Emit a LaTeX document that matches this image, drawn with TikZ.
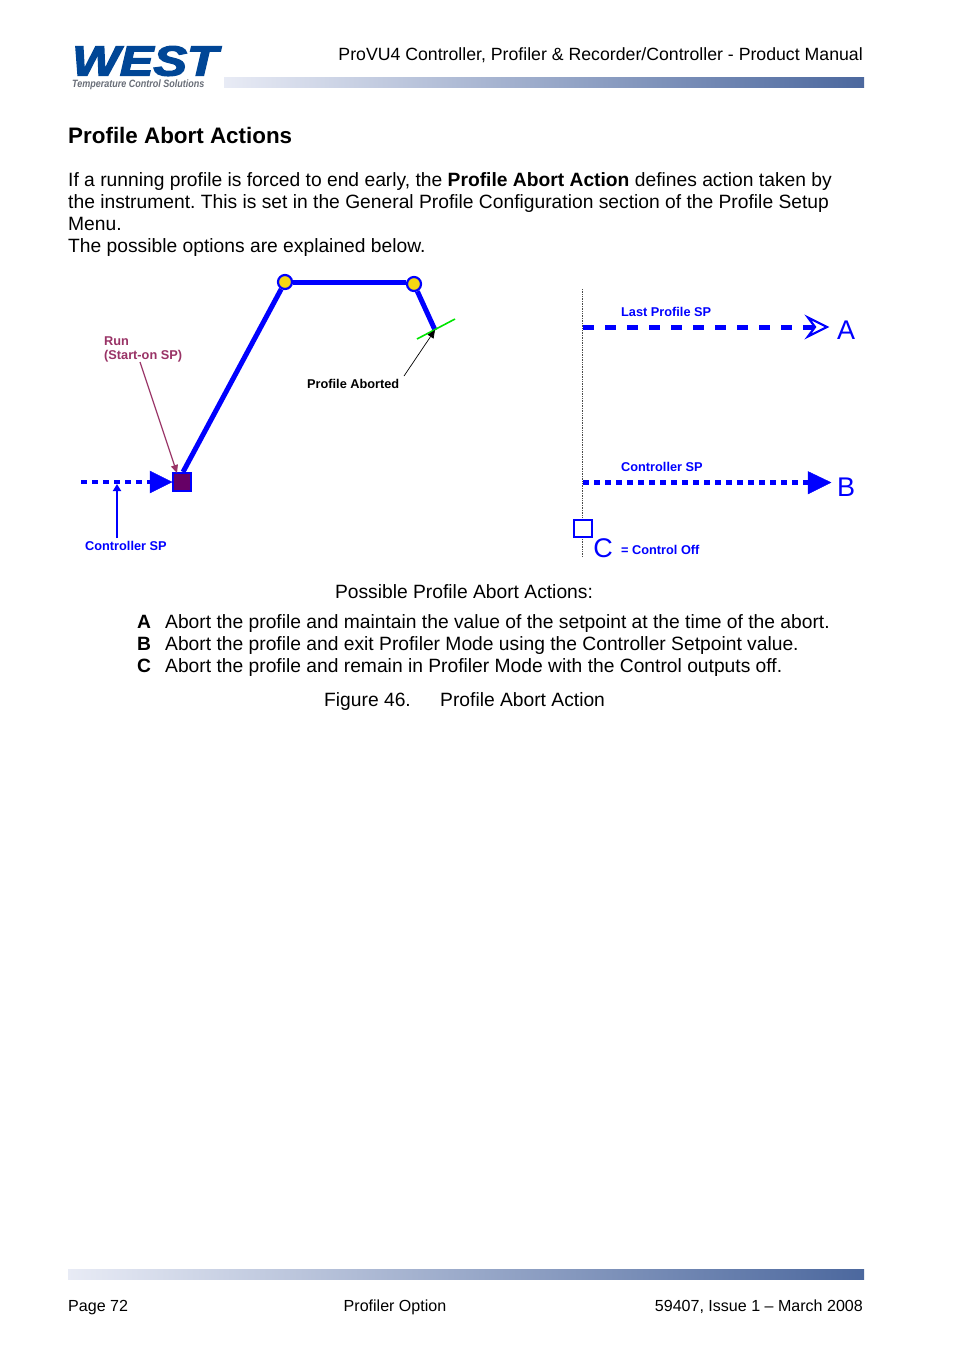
\documentclass[tikz,border=0pt]{standalone}
\usepackage{fontspec}
\setmainfont{Liberation Sans}
\newfontfamily\logofont[FakeBold=3]{Liberation Sans Bold Italic}
\usetikzlibrary{arrows.meta}
\definecolor{westblue}{RGB}{0,70,150}
\definecolor{taggray}{RGB}{105,110,120}
\definecolor{runred}{RGB}{153,51,102}
\definecolor{startfill}{RGB}{102,0,102}
\definecolor{spotfill}{RGB}{245,215,20}
\definecolor{barlight}{RGB}{232,235,245}
\definecolor{bardark}{RGB}{76,104,158}
\newcommand{\bodyfont}{\fontsize{19.25}{22}\selectfont\frenchspacing}
\newcommand{\footfont}{\fontsize{16.05}{20}\selectfont}
\newcommand{\smallfont}{\fontsize{12.75}{15}\selectfont\bfseries}

\begin{document}
\begin{tikzpicture}[
  x=1pt, y=-1pt,
  txt/.style={anchor=base west, inner sep=0pt, font=\bodyfont},
  txtr/.style={anchor=base east, inner sep=0pt, font=\bodyfont},
  txtc/.style={anchor=base, inner sep=0pt, font=\bodyfont},
  lbl/.style={anchor=base west, inner sep=0pt, font=\smallfont, text=blue, align=left},
  big/.style={anchor=base, inner sep=0pt, font=\fontsize{27}{30}\selectfont, text=blue},
  bar/.style={left color=barlight, right color=bardark, draw=none},
  spot/.style={circle, draw=blue, fill=spotfill, line width=2.2pt, minimum size=14pt, inner sep=0pt},
  boxmark/.style={draw=blue, line width=2pt, minimum size=17.5pt, inner sep=0pt},
  prof/.style={blue, line width=5pt},
  dots/.style={blue, line width=4.7pt, dash pattern=on 6pt off 5pt},
  dashes/.style={blue, line width=5pt, dash pattern=on 11pt off 11pt}
]
\useasboundingbox (0,0) rectangle (954,1350);
\fill[white] (0,0) rectangle (954,1350);

% header
\node[anchor=base west, inner sep=0pt, font=\fontsize{42}{45}\logofont, text=westblue, xscale=1.2] (logo) at (72,75.5) {WEST};
\node[anchor=base west, inner sep=0pt, font=\fontsize{10.6}{12}\selectfont\bfseries\itshape, text=taggray, xscale=.85] (tagline) at (72,87.5) {Temperature Control Solutions};
\node[txtr, font=\fontsize{17.7}{22}\selectfont] (title) at (863,60) {ProVU4 Controller, Profiler \& Recorder/Controller - Product Manual};
\shade[bar] (224,77) rectangle (864,87);

% intro text
\node[anchor=base west, inner sep=0pt, font=\fontsize{22.4}{26}\selectfont\bfseries] (head) at (68,143.5) {Profile Abort Actions};
\node[txt] (line1) at (68,186) {If a running profile is forced to end early, the \textbf{Profile Abort Action} defines action taken by};
\node[txt] (line2) at (68,208) {the instrument. This is set in the General Profile Configuration section of the Profile Setup};
\node[txt] (line3) at (68,230) {Menu.};
\node[txt] (line4) at (68,252) {The possible options are explained below.};

% left diagram
\node[boxmark, fill=startfill] (start) at (182,482) {};
\node[spot] (peak) at (285,282) {};
\node[spot] (fall) at (414,284) {};
\coordinate (rampfoot) at (183,472);
\coordinate (abort) at (435,330);
\coordinate (dotin) at (81,482);
\coordinate (dotend) at (151,482);
\draw[prof] (rampfoot) -- (peak);
\draw[prof] (peak) -- (fall.west |- peak);
\draw[prof] (fall) -- (abort);
\coordinate (markA) at (417,339);
\coordinate (markB) at (455,319);
\draw[green!90!black, line width=1.6pt] (markA) -- (markB);
\draw[dots] (dotin) -- (dotend);
\draw[blue, fill=blue] (150,471) -- (172,482) -- (150,493) -- cycle;

\node[lbl, text=runred] (runlbl) at (104,345) {Run};
\node[lbl, text=runred] (runlbl2) at (104,359) {(Start-on SP)};
\coordinate (runfrom) at (140,362);
\coordinate (runto) at (177,473);
\draw[runred, line width=1.2pt, -{Triangle[length=8pt, width=7pt]}] (runfrom) -- (runto);

\node[lbl, text=black] (abortlbl) at (307,388) {Profile Aborted};
\coordinate (abfrom) at (404,376);
\draw[black, line width=.7pt, -{Triangle[length=8pt, width=7pt]}] (abfrom) -- (abort);

\node[lbl] (ctrllbl) at (85,550) {Controller SP};
\coordinate (ctrlfrom) at (117,538);
\coordinate (ctrlto) at (117,484);
\draw[blue, line width=2pt, -{Triangle[length=7pt, width=8pt]}] (ctrlfrom) -- (ctrlto);

% right diagram
\coordinate (axistop) at (582.5,289);
\coordinate (axisbot) at (582.5,556);
\draw[black!70, line width=.7pt, densely dotted] (axistop) -- (axisbot);
\coordinate (lineA) at (583,327);
\coordinate (lineB) at (583,482.5);
\node[big] (optA) at (846,339) {A};
\node[big] (optB) at (846,496) {B};
\node[boxmark, fill=white] (offbox) at (583,528.5) {};
\node[big] (optC) at (603,557) {C};
\coordinate (tipA) at (827,327);
\coordinate (tipB) at (831,482.5);
\coordinate (notchA) at (815,327);
\draw[dashes] (lineA) -- (notchA);
\draw[blue, line width=2.2pt, line join=miter] (808,317.5) -- (tipA) -- (808,336.5) -- (notchA) -- cycle;
\draw[dots] (lineB) -- (809,482.5);
\draw[blue, fill=blue] (808,471.5) -- (tipB) -- (808,494) -- cycle;
\node[lbl] (lastlbl) at (621,316) {Last Profile SP};
\node[lbl] (ctrllbl2) at (621,471) {Controller SP};
\node[lbl] (offlbl) at (621,554) {= Control Off};

% caption
\node[txtc] (possible) at (464,598) {Possible Profile Abort Actions:};
\node[txt, font=\bodyfont\bfseries] (keyA) at (137,628) {A};
\node[txt] (textA) at (165,628) {Abort the profile and maintain the value of the setpoint at the time of the abort.};
\node[txt, font=\bodyfont\bfseries] (keyB) at (137,650) {B};
\node[txt] (textB) at (165,650) {Abort the profile and exit Profiler Mode using the Controller Setpoint value.};
\node[txt, font=\bodyfont\bfseries] (keyC) at (137,672) {C};
\node[txt] (textC) at (165,672) {Abort the profile and remain in Profiler Mode with the Control outputs off.};
\node[txt] (figno) at (324,706) {Figure 46.};
\node[txt] (figname) at (440,706) {Profile Abort Action};

% footer
\shade[bar] (68,1269) rectangle (864,1279);
\node[txt, font=\footfont] (page) at (68,1311) {Page 72};
\node[txtc, font=\footfont] (section) at (395,1311) {Profiler Option};
\node[txtr, font=\footfont] (issue) at (863,1311) {59407, Issue 1 – March 2008};
\end{tikzpicture}
\end{document}
